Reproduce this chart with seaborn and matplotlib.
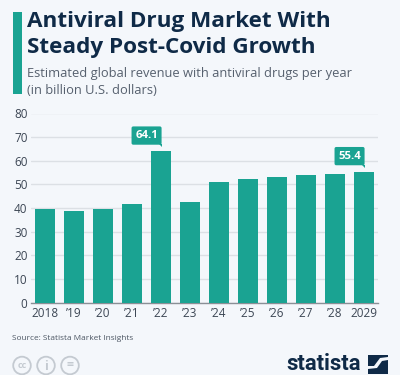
import matplotlib
matplotlib.use("Agg")
import matplotlib.pyplot as plt
import seaborn as sns
import pandas as pd
from matplotlib.patches import Circle, Rectangle, Polygon
from matplotlib.transforms import IdentityTransform

years = ["2018", "’19", "’20", "’21", "’22", "’23", "’24", "’25", "’26", "’27", "’28", "2029"]
revenue = [39.7, 38.9, 39.4, 41.8, 64.1, 42.5, 51.1, 52.1, 53.0, 53.8, 54.5, 55.4]
highlighted = ["’22", "2029"]
title_lines = ["Antiviral Drug Market With", "Steady Post-Covid Growth"]
subtitle_lines = ["Estimated global revenue with antiviral drugs per year", "(in billion U.S. dollars)"]
source = "Source: Statista Market Insights"

BG = "#f4f7fb"
TEAL = "#1aa392"
NAVY = "#0f2a47"
GREY = "#56606e"
W, H = 400, 375

sns.set_theme(style="white")
plt.rcParams["font.family"] = ["Open Sans", "DejaVu Sans"]

fig = plt.figure(figsize=(W / 100, H / 100), dpi=100, facecolor=BG)
ax = fig.add_axes([31 / W, 1 - 302.5 / H, 347 / W, 189 / H], facecolor=BG)

df = pd.DataFrame({"year": years, "revenue": revenue})
sns.barplot(data=df, x="year", y="revenue", color=TEAL, saturation=1, width=0.71,
            edgecolor="none", linewidth=0, ax=ax, zorder=3)

ax.set_xlim(-0.483, 11.483)
ax.set_ylim(0, 80)
ax.set_yticks(range(0, 81, 10))
ax.set_xlabel("")
ax.set_ylabel("")
ax.yaxis.grid(True, color="#dce0e5", lw=1)
ax.set_axisbelow(True)
for s in ["top", "right", "left"]:
    ax.spines[s].set_visible(False)
ax.spines["bottom"].set_color("#8a8f96")
ax.spines["bottom"].set_linewidth(1)
ax.tick_params(axis="both", length=0, labelsize=8.5, labelcolor="#3c4654")
ax.tick_params(axis="x", pad=3.5)
ax.tick_params(axis="y", pad=2.5)

for label, value in zip(years, revenue):
    if label in highlighted:
        i = years.index(label)
        ax.annotate(f"{value:.1f}", (i, value), xytext=(-10.4, 7.2), textcoords="offset points",
                    ha="center", va="bottom", fontsize=8.2, fontweight="bold", color="white",
                    bbox=dict(boxstyle="round,pad=0.32,rounding_size=0.15", fc=TEAL, ec="none"),
                    zorder=6, annotation_clip=False)
        ax.plot([i - 0.07], [value + 3.0], marker=[(0, 0), (1, 0), (1, -1)], ms=4.4, color=TEAL,
                mew=0, zorder=5, clip_on=False)

fig.add_artist(Rectangle((12.5 / W, 1 - 94 / H), 9 / W, 81.5 / H, transform=fig.transFigure, fc=TEAL, ec="none"))

for y, line in zip([21, 47], title_lines):
    fig.text(27 / W, 1 - y / H, line, fontsize=16.2, fontweight="bold", color=NAVY, va="center", ha="left")
for y, line in zip([73.5, 90], subtitle_lines):
    fig.text(27 / W, 1 - y / H, line, fontsize=9.3, color=GREY, va="center", ha="left")
fig.text(12.5 / W, 1 - 338.5 / H, source, fontsize=5.95, color="#4c5663", va="center", ha="left")

# licence badges
BADGE = "#c4cad1"
for cx, txt, size in zip([22, 46, 70], ["cc", "i", "="], [6.5, 9, 9]):
    fig.add_artist(Circle((cx, H - 365.5), 8.8, transform=IdentityTransform(), fc="none", ec=BADGE, lw=1.3))
    fig.text(cx / W, 1 - 366 / H, txt, fontsize=size, fontweight="bold", color=BADGE, ha="center", va="center")

# wordmark
fig.text(360.5 / W, 1 - 370.5 / H, "statista", fontsize=15.8, fontweight="bold", color=NAVY, ha="right", va="baseline",
         family=["Liberation Sans Narrow", "Roboto", "DejaVu Sans"])
fig.add_artist(Polygon([(368 / W, 1 - 355 / H), (388 / W, 1 - 355 / H), (388 / W, 1 - 357 / H), (380 / W, 1 - 358 / H),
                        (374 / W, 1 - 366 / H), (368 / W, 1 - 366 / H)],
                       transform=fig.transFigure, fc=NAVY, ec="none"))
fig.add_artist(Polygon([(388 / W, 1 - 360 / H), (388 / W, 1 - 374 / H), (368 / W, 1 - 374 / H), (368 / W, 1 - 369 / H),
                        (377 / W, 1 - 368 / H), (382 / W, 1 - 361 / H)],
                       transform=fig.transFigure, fc=NAVY, ec="none"))

fig.savefig("out.png", dpi=100, facecolor=BG)
